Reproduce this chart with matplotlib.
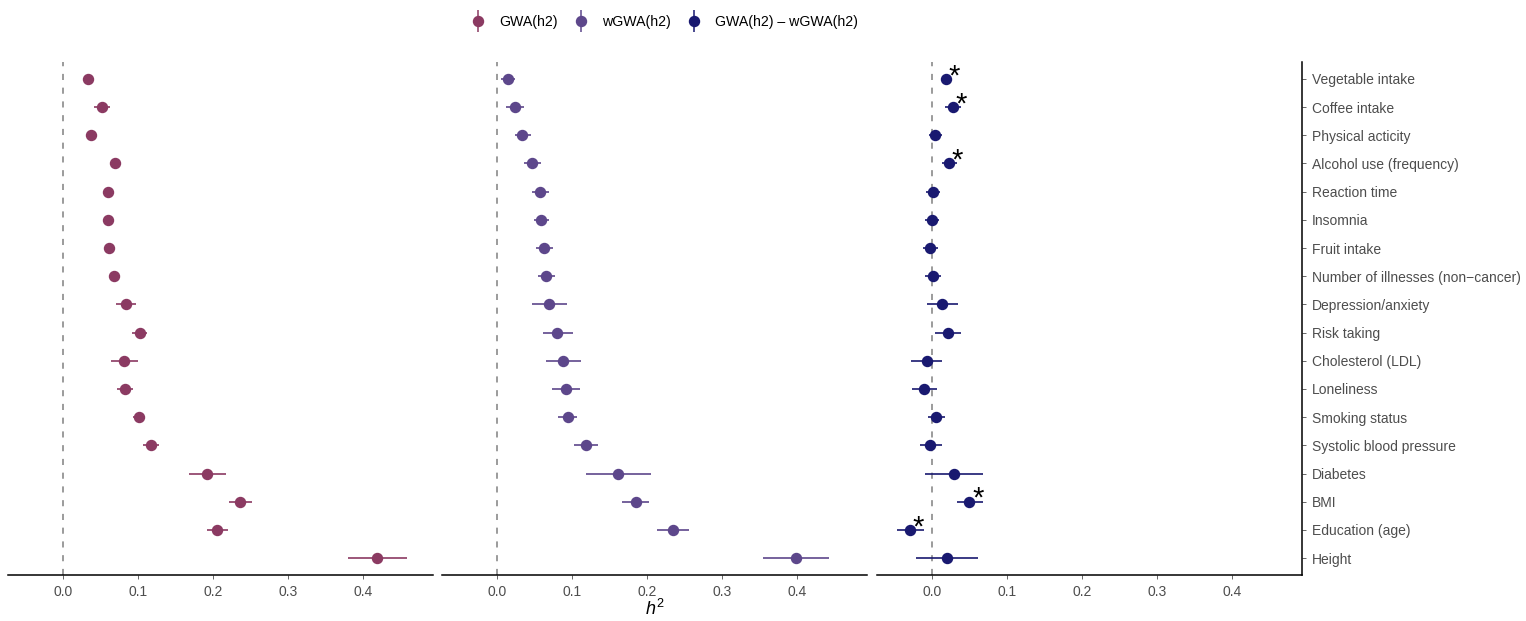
import numpy as np
import matplotlib.pyplot as plt
from matplotlib.lines import Line2D

plt.rcParams['font.family'] = ['Liberation Sans', 'DejaVu Sans']
plt.rcParams['mathtext.fontset'] = 'custom'
plt.rcParams['mathtext.it'] = 'Liberation Sans:italic'
plt.rcParams['mathtext.rm'] = 'Liberation Sans'

# traits, top to bottom
traits = ['Vegetable intake', 'Coffee intake', 'Physical acticity', 'Alcohol use (frequency)',
          'Reaction time', 'Insomnia', 'Fruit intake', 'Number of illnesses (non\u2212cancer)',
          'Depression/anxiety', 'Risk taking', 'Cholesterol (LDL)', 'Loneliness',
          'Smoking status', 'Systolic blood pressure', 'Diabetes', 'BMI',
          'Education (age)', 'Height']

# GWA(h2): estimate, lower, upper
gwa_est = [0.034, 0.052, 0.038, 0.070, 0.060, 0.060, 0.061, 0.068, 0.084, 0.103,
           0.082, 0.083, 0.101, 0.117, 0.192, 0.236, 0.206, 0.419]
gwa_lo = [0.031, 0.042, 0.035, 0.066, 0.057, 0.057, 0.058, 0.065, 0.071, 0.092,
          0.064, 0.072, 0.093, 0.107, 0.168, 0.221, 0.192, 0.380]
gwa_hi = [0.037, 0.063, 0.041, 0.074, 0.063, 0.063, 0.064, 0.071, 0.098, 0.112,
          0.100, 0.093, 0.109, 0.128, 0.217, 0.252, 0.220, 0.458]

# wGWA(h2)
wgwa_est = [0.015, 0.024, 0.034, 0.047, 0.058, 0.059, 0.063, 0.066, 0.070, 0.080,
            0.088, 0.092, 0.095, 0.119, 0.162, 0.185, 0.234, 0.398]
wgwa_lo = [0.006, 0.012, 0.024, 0.036, 0.047, 0.049, 0.052, 0.055, 0.047, 0.061,
           0.066, 0.074, 0.082, 0.103, 0.119, 0.167, 0.213, 0.355]
wgwa_hi = [0.024, 0.036, 0.045, 0.059, 0.069, 0.070, 0.075, 0.078, 0.094, 0.101,
           0.112, 0.111, 0.107, 0.135, 0.206, 0.203, 0.256, 0.442]

# GWA(h2) - wGWA(h2)
diff_est = [0.019, 0.028, 0.004, 0.023, 0.002, 0.000, -0.003, 0.001, 0.014, 0.021,
            -0.007, -0.010, 0.006, -0.002, 0.029, 0.050, -0.029, 0.020]
diff_lo = [0.012, 0.018, -0.004, 0.014, -0.008, -0.009, -0.012, -0.009, -0.006, 0.004,
           -0.028, -0.026, -0.005, -0.016, -0.009, 0.034, -0.047, -0.021]
diff_hi = [0.027, 0.039, 0.013, 0.033, 0.011, 0.010, 0.008, 0.012, 0.035, 0.039,
           0.014, 0.007, 0.017, 0.013, 0.068, 0.068, -0.011, 0.061]
significant = ['Vegetable intake', 'Coffee intake', 'Alcohol use (frequency)', 'BMI', 'Education (age)']

colors = ['#8B3A62', '#5D478B', '#191970']
labels = ['GWA(h2)', 'wGWA(h2)', 'GWA(h2) \u2013 wGWA(h2)']
x_ticks = [0.0, 0.1, 0.2, 0.3, 0.4]

W, H = 1526, 621
fig = plt.figure(figsize=(W / 100, H / 100), dpi=100)

y = np.arange(len(traits))[::-1] + 1
panels = [(gwa_est, gwa_lo, gwa_hi), (wgwa_est, wgwa_lo, wgwa_hi), (diff_est, diff_lo, diff_hi)]
lefts = [8, 442, 877]
axes = []
for i, (est, lo, hi) in enumerate(panels):
    ax = fig.add_axes([lefts[i] / W, (H - 575) / H, 425 / W, (575 - 62) / H])
    est, lo, hi = np.array(est), np.array(lo), np.array(hi)
    ax.axvline(0, color='#808080', lw=1.1, ls=(0, (4, 5)), zorder=1)
    ax.hlines(y, lo, hi, color=colors[i], lw=1.2, zorder=2)
    ax.plot(est, y, 'o', color=colors[i], ms=7.2, zorder=3)
    ax.set_xlim(-0.073, 0.493)
    ax.set_ylim(0.4, len(traits) + 0.6)
    ax.set_xticks(x_ticks)
    ax.set_xticklabels([f'{t:.1f}' for t in x_ticks])
    ax.tick_params(axis='x', length=3, width=0.6, color='#4D4D4D', labelcolor='#4D4D4D',
                   labelsize=10, pad=4)
    for s in ['top', 'left', 'right']:
        ax.spines[s].set_visible(False)
    ax.spines['bottom'].set_linewidth(1.1)
    ax.set_yticks([])
    axes.append(ax)

ax3 = axes[2]
ax3.spines['right'].set_visible(True)
ax3.spines['right'].set_linewidth(1.1)
ax3.yaxis.tick_right()
ax3.set_yticks(y)
ax3.set_yticklabels(traits)
ax3.tick_params(axis='y', length=3, width=0.6, color='#4D4D4D', labelcolor='#4D4D4D',
                labelsize=10, pad=4)

# significance stars next to the difference estimates
for t, e, yy in zip(traits, diff_est, y):
    if t in significant:
        ax3.annotate('*', xy=(e, yy), xytext=(6.0, -3.8), textcoords='offset points',
                     ha='center', va='baseline', fontsize=21, color='black', zorder=4)

axes[1].set_xlabel(r'$h^2$', fontsize=13, labelpad=0)

handles = [(Line2D([], [], color=c, marker='|', ms=16, mew=1.1, ls='none'),
            Line2D([], [], color=c, marker='o', ms=7.2, ls='none')) for c in colors]
fig.legend(handles, labels, loc='center', bbox_to_anchor=(0.435, 0.965), ncol=3,
           frameon=False, fontsize=10.2, handlelength=1.2, handletextpad=0.9,
           columnspacing=1.0)

fig.savefig('out.png', dpi=100)
